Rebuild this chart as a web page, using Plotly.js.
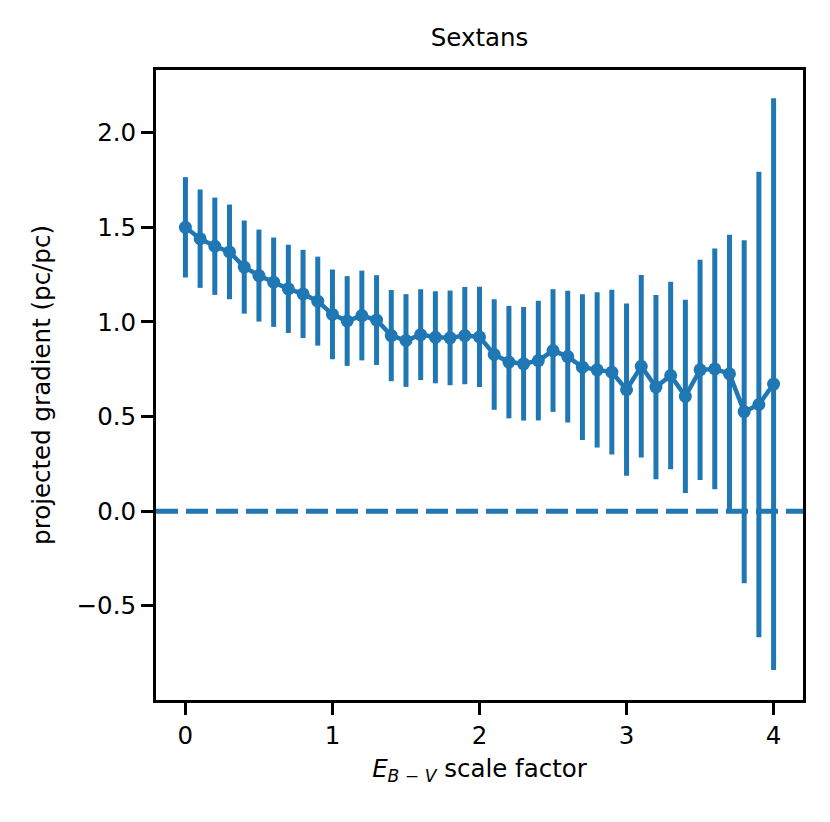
<!DOCTYPE html>
<html>
<head>
<meta charset="utf-8">
<script src="https://cdn.plot.ly/plotly-3.0.1.min.js"></script>
<style>html,body{margin:0;padding:0;background:#fff;}#chart{width:830px;height:822px;}</style>
</head>
<body>
<div id="chart"></div>
<script>
var scaleFactor = [0.0,0.1,0.2,0.3,0.4,0.5,0.6,0.7,0.8,0.9,1.0,1.1,1.2,1.3,1.4,1.5,1.6,1.7,1.8,1.9,2.0,
                   2.1,2.2,2.3,2.4,2.5,2.6,2.7,2.8,2.9,3.0,3.1,3.2,3.3,3.4,3.5,3.6,3.7,3.8,3.9,4.0];
var gradient = [1.50,1.44,1.40,1.37,1.29,1.245,1.21,1.175,1.148,1.11,1.04,1.005,1.034,1.01,0.928,0.902,0.933,0.919,0.916,0.928,0.921,
                0.828,0.788,0.779,0.796,0.849,0.817,0.761,0.747,0.735,0.642,0.766,0.656,0.717,0.607,0.747,0.752,0.726,0.526,0.564,0.672];
var gradientErr = [0.265,0.26,0.257,0.25,0.246,0.243,0.236,0.233,0.233,0.235,0.237,0.237,0.237,0.237,0.241,0.245,0.24,0.243,0.25,0.257,0.265,
                   0.292,0.297,0.30,0.316,0.324,0.348,0.385,0.41,0.435,0.455,0.482,0.487,0.495,0.51,0.582,0.636,0.735,0.906,1.23,1.51];
var xTicks = [0,1,2,3,4];
var yTicks = [-0.5,0,0.5,1.0,1.5,2.0];

var blue = '#1f77b4';
var font = 'DejaVu Sans, sans-serif';

var trace = {
  x: scaleFactor, y: gradient, type: 'scatter', mode: 'lines+markers',
  line: {color: blue, width: 4.5},
  marker: {color: blue, size: 13},
  error_y: {type: 'data', array: gradientErr, visible: true, color: blue, thickness: 5, width: 0},
  hoverinfo: 'skip'
};

var axisCommon = {
  showline: true, mirror: true, linecolor: 'black', linewidth: 3,
  ticks: 'outside', ticklen: 12, tickwidth: 3, tickcolor: 'black',
  showgrid: false, zeroline: false,
  tickfont: {family: font, size: 24.5, color: 'black'}
};

var layout = {
  width: 830, height: 822,
  margin: {l: 156, r: 27, t: 70, b: 122, pad: 0},
  paper_bgcolor: 'white', plot_bgcolor: 'white',
  showlegend: false,
  font: {family: font, color: 'black', size: 24.5},
  title: {text: 'Sextans', font: {family: font, size: 24.5, color: 'black'},
          xref: 'paper', x: 0.5, xanchor: 'center', yref: 'container', y: 1 - 37/822, yanchor: 'middle'},
  xaxis: Object.assign({}, axisCommon, {
    range: [-0.2, 4.2], tickvals: xTicks, ticktext: xTicks.map(String),
    title: {text: '<i>E</i><sub><i>B</i> − <i>V</i></sub> scale factor', font: {family: font, size: 24.5, color: 'black'}, standoff: 11}
  }),
  yaxis: Object.assign({}, axisCommon, {
    range: [-0.997, 2.331], tickvals: yTicks, tickformat: '.1f',
    title: {text: 'projected gradient (pc/pc)', font: {family: font, size: 24.5, color: 'black'}, standoff: 20}
  }),
  shapes: [{
    type: 'line', xref: 'paper', x0: 0, x1: 1, yref: 'y', y0: 0, y1: 0,
    line: {color: blue, width: 5, dash: '22px,8px'}, layer: 'below'
  }]
};

Plotly.newPlot('chart', [trace], layout, {displayModeBar: false, staticPlot: true});
</script>
</body>
</html>
